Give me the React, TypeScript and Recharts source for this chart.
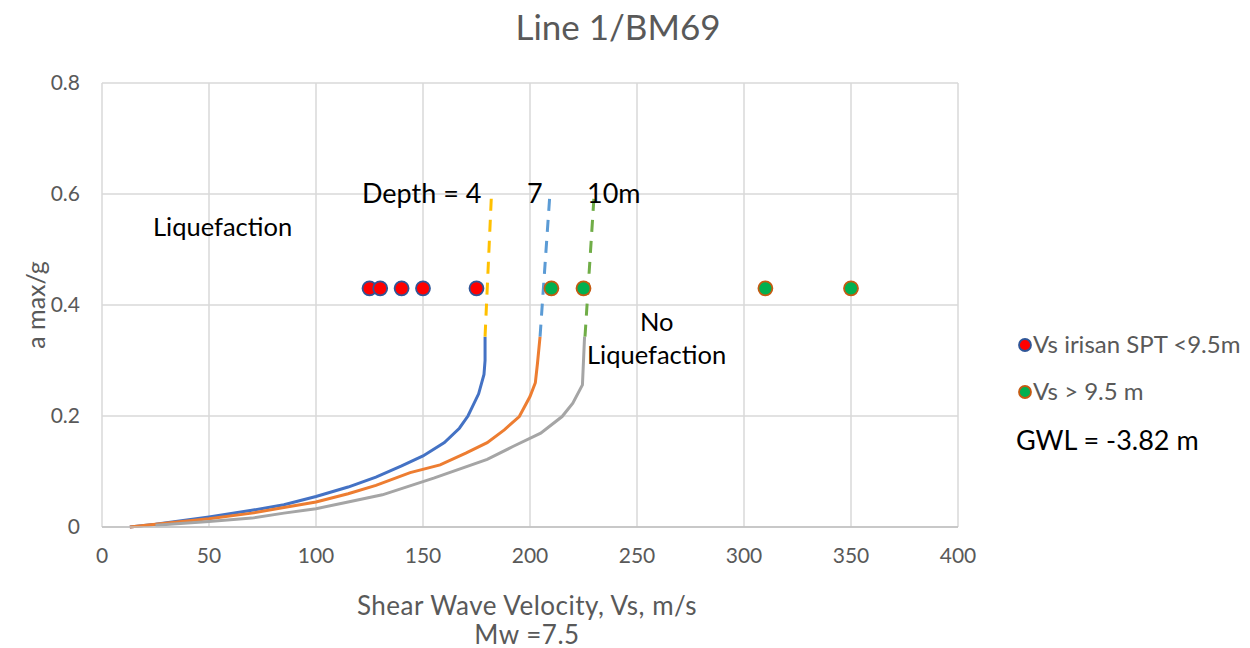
import React from "react"
import {
  ComposedChart,
  Line,
  Scatter,
  XAxis,
  YAxis,
  CartesianGrid,
} from "recharts"

// critical curves, depth 4 / 7 / 10 m  (Vs, a max/g)
const depth4 = [
  { x: 13, y: 0 }, { x: 25, y: 0.005 }, { x: 50, y: 0.018 }, { x: 70, y: 0.03 },
  { x: 85, y: 0.04 }, { x: 100, y: 0.055 }, { x: 115, y: 0.072 }, { x: 128, y: 0.09 },
  { x: 140, y: 0.11 }, { x: 150, y: 0.128 }, { x: 160, y: 0.152 }, { x: 167, y: 0.178 },
  { x: 171, y: 0.2 }, { x: 176, y: 0.24 }, { x: 178.5, y: 0.275 }, { x: 179, y: 0.3 },
  { x: 179, y: 0.343 },
]
const depth7 = [
  { x: 13, y: 0 }, { x: 25, y: 0.005 }, { x: 50, y: 0.015 }, { x: 70, y: 0.025 },
  { x: 85, y: 0.035 }, { x: 100, y: 0.045 }, { x: 115, y: 0.06 }, { x: 128, y: 0.075 },
  { x: 144, y: 0.098 }, { x: 158, y: 0.112 }, { x: 170, y: 0.133 }, { x: 180, y: 0.152 },
  { x: 188, y: 0.175 }, { x: 195, y: 0.199 }, { x: 200, y: 0.235 }, { x: 202.5, y: 0.26 },
  { x: 203.5, y: 0.295 }, { x: 204.7, y: 0.343 },
]
const depth10 = [
  { x: 25, y: 0.003 }, { x: 50, y: 0.01 }, { x: 70, y: 0.016 }, { x: 85, y: 0.025 },
  { x: 100, y: 0.033 }, { x: 115, y: 0.045 }, { x: 131, y: 0.058 }, { x: 155, y: 0.088 },
  { x: 180, y: 0.122 }, { x: 192, y: 0.145 }, { x: 205, y: 0.169 }, { x: 215, y: 0.199 },
  { x: 220, y: 0.223 }, { x: 224.5, y: 0.256 }, { x: 225.5, y: 0.343 },
]
// dashed extensions
const ext4 = [{ x: 179, y: 0.343 }, { x: 182, y: 0.6 }]
const ext7 = [{ x: 204.7, y: 0.343 }, { x: 209.3, y: 0.6 }]
const ext10 = [{ x: 225.7, y: 0.343 }, { x: 230, y: 0.6 }]

// measured Vs
const vsShallow = [
  { x: 125, y: 0.43 }, { x: 130, y: 0.43 }, { x: 140, y: 0.43 },
  { x: 150, y: 0.43 }, { x: 175, y: 0.43 },
]
const vsDeep = [
  { x: 210, y: 0.43 }, { x: 225, y: 0.43 }, { x: 310, y: 0.43 }, { x: 350, y: 0.43 },
]

const xTicks = [0, 50, 100, 150, 200, 250, 300, 350, 400]
const yTicks = [0, 0.2, 0.4, 0.6, 0.8]

const FONT = "Lato, 'Open Sans', sans-serif"
const GREY = "#595959"

const dot = (fill: string, stroke: string) => (p: any) => (
  <circle cx={p.cx} cy={p.cy} r={7} fill={fill} stroke={stroke} strokeWidth={1.8} />
)

const txt = (left: number, top: number, s: string, size = 25.5, color = "#000") => (
  <div
    style={{
      position: "absolute",
      left,
      top,
      fontSize: size,
      fontFamily: FONT,
      color,
      whiteSpace: "nowrap",
      lineHeight: 1,
    }}
  >
    {s}
  </div>
)

const centred = (top: number, s: string) => (
  <div
    style={{
      position: "absolute",
      left: 277,
      width: 500,
      top,
      textAlign: "center",
      fontSize: 26,
      letterSpacing: 0.5,
      color: GREY,
      lineHeight: 1,
      whiteSpace: "nowrap",
    }}
  >
    {s}
  </div>
)

export default function App() {
  return (
    <div
      style={{
        position: "absolute",
        left: 0,
        top: 0,
        width: 1250,
        height: 648,
        background: "#fff",
        fontFamily: FONT,
      }}
    >
      <ComposedChart
        width={1250}
        height={648}
        margin={{ top: 83, right: 292, bottom: 81, left: 42 }}
      >
        <CartesianGrid stroke="#d9d9d9" strokeWidth={1.5} />
        <XAxis
          type="number"
          dataKey="x"
          domain={[0, 400]}
          ticks={xTicks}
          height={40}
          tickLine={false}
          axisLine={{ stroke: "#bfbfbf", strokeWidth: 1.5 }}
          tickSize={0}
          tickMargin={21}
          tick={{ fill: GREY, fontSize: 21, fontFamily: FONT }}
          allowDataOverflow
        />
        <YAxis
          type="number"
          dataKey="y"
          domain={[0, 0.8]}
          ticks={yTicks}
          width={60}
          tickLine={false}
          axisLine={false}
          tickSize={0}
          tickMargin={22}
          tick={{ fill: GREY, fontSize: 21, fontFamily: FONT }}
          tickFormatter={(v: number) => (v === 0 ? "0" : v.toFixed(1))}
        />
        <Line data={depth4} dataKey="y" stroke="#4472c4" strokeWidth={3} dot={false} isAnimationActive={false} />
        <Line data={depth7} dataKey="y" stroke="#ed7d31" strokeWidth={3} dot={false} isAnimationActive={false} />
        <Line data={depth10} dataKey="y" stroke="#a5a5a5" strokeWidth={3} dot={false} isAnimationActive={false} />
        <Line data={ext4} dataKey="y" stroke="#ffc000" strokeWidth={3} strokeDasharray="12 9" dot={false} isAnimationActive={false} />
        <Line data={ext7} dataKey="y" stroke="#5b9bd5" strokeWidth={3} strokeDasharray="12 9" dot={false} isAnimationActive={false} />
        <Line data={ext10} dataKey="y" stroke="#70ad47" strokeWidth={3} strokeDasharray="12 9" dot={false} isAnimationActive={false} />
        <Scatter data={vsShallow} dataKey="y" shape={dot("#ff0000", "#2f5597")} isAnimationActive={false} />
        <Scatter data={vsDeep} dataKey="y" shape={dot("#00b050", "#c55a11")} isAnimationActive={false} />
      </ComposedChart>

      {/* title */}
      <div
        style={{
          position: "absolute",
          left: 0,
          width: 1236,
          top: 9,
          textAlign: "center",
          fontSize: 35,
          color: GREY,
          lineHeight: 1,
        }}
      >
        Line 1/BM69
      </div>

      {/* axis titles */}
      <div
        style={{
          position: "absolute",
          left: 35,
          top: 305,
          transform: "translate(-50%, -50%) rotate(-90deg)",
          fontSize: 25,
          color: GREY,
          whiteSpace: "nowrap",
          lineHeight: 1,
        }}
      >
        a max/g
      </div>
      {centred(592, "Shear Wave Velocity, Vs, m/s")}
      {centred(621, "Mw =7.5")}

      {/* annotations */}
      {txt(153, 213.5, "Liquefaction")}
      {txt(362, 179, "Depth = 4", 27)}
      {txt(527, 179, "7", 27)}
      {txt(587, 179, "10m", 27)}
      {txt(640, 308.5, "No")}
      {txt(587, 341.5, "Liquefaction")}

      {/* legend */}
      <svg style={{ position: "absolute", left: 1016, top: 336 }} width={20} height={66}>
        <circle cx={9} cy={9} r={6} fill="#ff0000" stroke="#2f5597" strokeWidth={1.8} />
        <circle cx={9} cy={56} r={6} fill="#00b050" stroke="#c55a11" strokeWidth={1.8} />
      </svg>
      {txt(1033, 332, "Vs irisan SPT <9.5m", 24, GREY)}
      {txt(1033, 379, "Vs > 9.5 m", 24, GREY)}
      {txt(1016, 425.5, "GWL = -3.82 m", 27)}
    </div>
  )
}
